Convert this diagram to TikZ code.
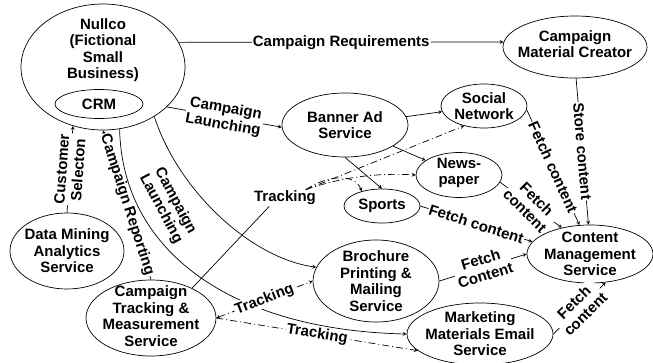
\documentclass[tikz,border=0pt]{standalone}
\usepackage{fontspec}
\setmainfont{Liberation Sans}
\usetikzlibrary{shapes.geometric}

\tikzset{
  ell/.style={draw, ellipse, inner sep=0pt},
  lbl/.style={fill=white, inner sep=1pt, align=center},
  track/.style={dash pattern=on 7pt off 3pt on 1pt off 3pt},
}

\begin{document}
\begin{tikzpicture}[x=1pt, y=-1pt, >=stealth, line width=0.7pt,
  every node/.style={font=\fontsize{15}{16.5}\selectfont\bfseries}]

    \useasboundingbox (0,0) rectangle (653,362);

    % Servicios (elipses con texto)
    \node[ell, minimum width=164, minimum height=126,
      label={[align=center, yshift=17pt]center:Nullco\\(Fictional\\Small\\Business)}] (nullco) at (103,67) {};
    \node[ell, minimum width=88, minimum height=29] (crm) at (99,104) {CRM};
    \node[ell, minimum width=144, minimum height=62,
      label={[align=center, yshift=3pt]center:Campaign\\Material Creator}] (cmc) at (575,47) {};
    \node[ell, minimum width=126, minimum height=64,
      label={[align=center]center:Banner Ad\\Service}] (banner) at (345,125) {};
    \node[ell, minimum width=86, minimum height=44,
      label={[align=center]center:Social\\Network}] (social) at (484,106) {};
    \node[ell, minimum width=86, minimum height=45,
      label={[align=center, yshift=2pt]center:News-\\paper}] (news) at (459,175) {};
    \node[ell, minimum width=76, minimum height=34] (sports) at (382,206) {Sports};
    \node[ell, minimum width=126, minimum height=58,
      label={[align=center]center:Content\\Management\\Service}] (cms) at (590,254) {};
    \node[ell, minimum width=126, minimum height=82,
      label={[align=center]center:Brochure\\Printing \&\\Mailing\\Service}] (brochure) at (376,281) {};
    \node[ell, minimum width=146, minimum height=62,
      label={[align=center]center:Marketing\\Materials Email\\Service}] (email) at (480,334) {};
    \node[ell, minimum width=114, minimum height=76,
      label={[align=center]center:Data Mining\\Analytics\\Service}] (dm) at (67,251) {};
    \node[ell, minimum width=130, minimum height=76,
      label={[align=center, yshift=2pt]center:Campaign\\Tracking \&\\Measurement\\Service}] (ct) at (151,318) {};

    % Flujos desde Nullco
    \draw[->] (nullco.18) -- node[lbl] (reqlbl) {Campaign Requirements} (cmc.176);
    \draw[->] (nullco.-32) -- node[lbl, sloped] (launchlbl) {Campaign\\Launching} (banner.182);
    \draw[->] (dm.north) -- node[lbl, sloped] (custlbl) {Customer\\Selecton} (nullco.243);
    \draw[->] (ct.north) -- node[lbl, sloped] (replbl) {Campaign Reporting} (nullco.south);

    % Lanzamiento hacia folletos y correo
    \draw[->] (nullco.-44) .. controls (178,190) and (250,258) .. (brochure.167);
    \node[rotate=-62, align=center] (launchlblb) at (168,205) {Campaign\\Launching};
    \draw[->] (nullco.-75) .. controls (122,250) and (230,330) .. (email.west);

    % Anuncios
    \draw[->] (banner) -- (social);
    \draw[->] (banner) -- (news);
    \draw[->] (banner.south) -- (sports.north);

    % Seguimiento
    \node[lbl] (tracklbl) at (285,198) {Tracking};
    \draw (ct.36) -- (tracklbl.208);
    \draw[->, track] (tracklbl.22) -- (social.225);
    \draw[->, track] (tracklbl.22) .. controls (345,176) and (380,173) .. (news.west);
    \draw[->, track] (tracklbl.22) .. controls (330,174) and (355,174) .. (sports.144);
    \draw[<->, track] (ct.east) -- node[lbl, sloped] (trackb) {Tracking} (brochure.west);
    \draw[->, track] (ct.east) -- node[lbl, sloped] (tracke) {Tracking} (email.195);

    % Contenido
    \draw[->] (cmc.-88) -- node[lbl, sloped] (storelbl) {Store content} (cms.93);
    \draw[->] (news.-10) -- node[lbl, rotate=-45] (fetchn) {Fetch\\content} (cms.137);
    \foreach \src/\dst/\txt in {social.-5/cms.110/{Fetch content},
                                sports.east/cms.168/{Fetch content},
                                brochure.east/cms.west/{Fetch\\Content},
                                email.east/cms.-61/{Fetch\\content}} {
        \draw[->] (\src) -- node[lbl, sloped] {\txt} (\dst);
    }
\end{tikzpicture}
\end{document}
